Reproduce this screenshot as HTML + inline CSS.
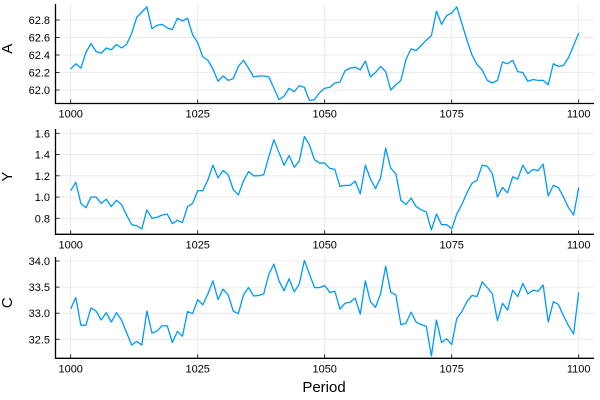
<!DOCTYPE html>
<html><head><meta charset="utf-8"><style>
html,body{margin:0;padding:0;background:#fff;}
svg{display:block;font-family:"Liberation Sans","DejaVu Sans",sans-serif;}
</style></head><body>
<svg id="chart" width="600" height="400" viewBox="0 0 600 400"></svg>
<script>
const periods = Array.from({length:101},(_,i)=>1000+i);
const seriesA = [62.24,62.30,62.25,62.43,62.53,62.44,62.42,62.48,62.46,62.52,62.48,62.52,62.65,62.83,62.89,62.95,62.70,62.74,62.75,62.71,62.69,62.82,62.79,62.82,62.63,62.54,62.38,62.34,62.24,62.10,62.16,62.11,62.13,62.27,62.34,62.25,62.15,62.16,62.16,62.15,62.02,61.89,61.93,62.02,61.98,62.05,62.03,61.88,61.89,61.97,62.02,
62.03,62.08,62.09,62.22,62.25,62.26,62.23,62.33,62.15,62.20,62.27,62.21,62.00,62.06,62.11,62.35,62.47,62.45,62.51,62.57,62.62,62.90,62.75,62.85,62.88,62.95,62.76,62.57,62.40,62.29,62.23,62.11,62.08,62.11,62.32,62.30,62.34,62.21,62.20,62.10,62.12,62.11,62.11,62.06,62.30,62.27,62.28,62.37,62.51,62.65];
const seriesY = [1.06,1.14,0.94,0.90,1.00,1.00,0.94,0.98,0.91,0.97,0.93,0.83,0.74,0.73,0.70,0.88,0.80,0.81,0.83,0.84,0.75,0.78,0.76,0.91,0.94,1.06,1.06,1.16,1.30,1.18,1.25,1.21,1.07,1.02,1.15,1.24,1.20,1.20,1.21,1.38,1.54,1.42,1.30,1.39,1.28,1.34,1.57,1.49,1.35,1.32,1.32,
1.27,1.26,1.10,1.11,1.11,1.15,1.03,1.30,1.17,1.08,1.18,1.46,1.27,1.22,0.97,0.93,0.99,0.91,0.88,0.86,0.69,0.84,0.74,0.74,0.70,0.84,0.93,1.04,1.13,1.16,1.30,1.29,1.22,1.00,1.09,1.04,1.19,1.17,1.30,1.22,1.26,1.25,1.31,1.01,1.11,1.09,1.00,0.90,0.83,1.09];
const seriesC = [33.08,33.30,32.77,32.77,33.10,33.04,32.87,33.01,32.83,33.01,32.87,32.63,32.39,32.46,32.39,33.04,32.62,32.66,32.76,32.76,32.44,32.65,32.56,33.03,32.99,33.26,33.16,33.37,33.62,33.26,33.46,33.35,33.04,32.99,33.35,33.49,33.33,33.34,33.37,33.75,33.94,33.62,33.43,33.66,33.41,33.56,34.01,33.75,33.49,33.49,33.53,
33.40,33.42,33.08,33.19,33.21,33.29,32.98,33.62,33.22,33.11,33.37,33.90,33.40,33.35,32.78,32.81,33.02,32.83,32.78,32.75,32.18,32.87,32.44,32.51,32.40,32.90,33.03,33.22,33.34,33.32,33.60,33.49,33.37,32.86,33.19,33.06,33.44,33.32,33.57,33.37,33.44,33.42,33.54,32.83,33.22,33.17,32.95,32.76,32.60,33.40];
const xTicks = [1000,1025,1050,1075,1100];
const ticksA = [62.0,62.2,62.4,62.6,62.8];
const ticksY = [0.8,1.0,1.2,1.4,1.6];
const ticksC = [32.5,33.0,33.5,34.0];

const NS="http://www.w3.org/2000/svg";
const svg=document.getElementById('chart');
function mk(tag,attrs,parent){const e=document.createElementNS(NS,tag);for(const k in attrs)e.setAttribute(k,attrs[k]);(parent||svg).appendChild(e);return e;}
const X0=55.5,X1=594;
const xScale=p=>70.7+(p-1000)*5.08;

const panels=[
 {key:'a',label:'A',data:seriesA,ticks:ticksA,top:4,bottom:103.5,v0:62.0,y0:90,v1:62.8,y1:20,fmt:v=>v.toFixed(1)},
 {key:'y',label:'Y',data:seriesY,ticks:ticksY,top:129,bottom:234.3,v0:0.8,y0:218.3,v1:1.6,y1:133.3,fmt:v=>v.toFixed(1)},
 {key:'c',label:'C',data:seriesC,ticks:ticksC,top:257,bottom:358.3,v0:32.5,y0:339.3,v1:34.0,y1:261,fmt:v=>v.toFixed(1)}
];
panels.forEach(p=>{
  const g=mk('g',{});
  
  
  const ys=v=>p.y0+(v-p.v0)*(p.y1-p.y0)/(p.v1-p.v0);
  xTicks.forEach(t=>{
    const l=mk('line',{x1:xScale(t),x2:xScale(t),y1:p.top,y2:p.bottom,stroke:'#e6e6e6','stroke-width':0.8},g);
    
    
    const tk=mk('line',{x1:xScale(t),x2:xScale(t),y1:p.bottom,y2:p.bottom-4,stroke:'#000','stroke-width':0.8},g);
    
    
    const tx=mk('text',{x:xScale(t),y:p.bottom+14,'font-size':11,'text-anchor':'middle',fill:'#000'},g);
    tx.textContent=t;
    
    
  });
  p.ticks.forEach(t=>{
    const y=ys(t);
    const l=mk('line',{x1:X0,x2:X1,y1:y,y2:y,stroke:'#e6e6e6','stroke-width':0.8},g);
    
    
    const tk=mk('line',{x1:X0,x2:X0+4,y1:y,y2:y,stroke:'#000','stroke-width':0.8},g);
    
    
    const tx=mk('text',{x:50,y:y+4,'font-size':11,'text-anchor':'end',fill:'#000'},g);
    tx.textContent=p.fmt(t);
    
    
  });
  const ax=mk('path',{d:`M${X0},${p.top} V${p.bottom} H${X1}`,fill:'none',stroke:'#000','stroke-width':1.3},g);
  
  
  const d=p.data.map((v,i)=>(i?'L':'M')+xScale(periods[i]).toFixed(2)+','+ys(v).toFixed(2)).join(' ');
  const ln=mk('path',{d:d,fill:'none',stroke:'#009af9','stroke-width':1.3,'stroke-linejoin':'round'},g);
  
  
  const cy=(p.top+p.bottom)/2;
  const yl=mk('text',{x:17,y:cy,'font-size':15,'text-anchor':'middle',fill:'#000',transform:`rotate(-90 12 ${cy})`},g);
  yl.textContent=p.label;
  
  
});
const xt=mk('text',{x:324,y:392,'font-size':15,'text-anchor':'middle',fill:'#000'});
xt.textContent='Period';


</script>
</body></html>
